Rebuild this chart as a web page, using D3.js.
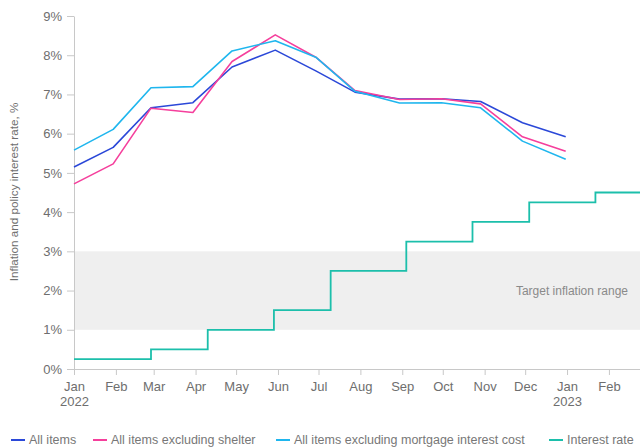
<!DOCTYPE html>
<html>
<head>
<meta charset="utf-8">
<script src="https://cdn.jsdelivr.net/npm/d3@7"></script>
<style>
  body { margin: 0; background: #fff; }
  svg { font-family: "Liberation Sans", Arial, sans-serif; }
</style>
</head>
<body>
<svg id="chart" width="640" height="448"></svg>
<script>
// monthly CPI readings (y/y %), dated where the kinks fall in the picture
const cpiDates = ["2022-01-01", "2022-01-30", "2022-02-27", "2022-03-30", "2022-04-28", "2022-05-30",
  "2022-06-29", "2022-07-28", "2022-08-30", "2022-09-30", "2022-10-29", "2022-11-29", "2022-12-31"];
const allItems      = [5.15, 5.65, 6.66, 6.79, 7.70, 8.13, 7.60, 7.06, 6.88, 6.89, 6.82, 6.28, 5.92];
const exShelter     = [4.72, 5.23, 6.65, 6.54, 7.84, 8.52, 7.95, 7.10, 6.87, 6.89, 6.76, 5.92, 5.55];
const exMortgage    = [5.58, 6.11, 7.17, 7.20, 8.11, 8.37, 7.95, 7.08, 6.78, 6.79, 6.66, 5.81, 5.35];

// policy rate, weekly steps
const rateDates = ["2022-01-01", "2022-02-27", "2022-04-10", "2022-05-29", "2022-07-10", "2022-09-04",
  "2022-10-23", "2022-12-04", "2023-01-22", "2023-02-24"];
const rateValues = [0.25, 0.5, 1.0, 1.5, 2.5, 3.25, 3.75, 4.25, 4.5, 4.5];

const yTicks = [0, 1, 2, 3, 4, 5, 6, 7, 8, 9];
const targetRange = [1, 3];

const seriesNames = ["All items", "All items excluding shelter", "All items excluding mortgage interest cost", "Interest rate"];
const seriesColors = ["#2b48d8", "#f53f9c", "#1fb6ee", "#1cbfab"];

let parse = d3.timeParse("%Y-%m-%d");

let margin = {top: 16, right: 0, bottom: 79, left: 74};
let width = 640, height = 448;

let svg = d3.select("#chart");

let x = d3.scaleTime()
  .domain([parse("2022-01-01"), parse("2023-02-24")])
  .range([margin.left, width - margin.right]);
let y = d3.scaleLinear()
  .domain([0, 9])
  .range([height - margin.bottom, margin.top]);

// target band
svg.append("rect")
  .attr("x", x.range()[0])
  .attr("width", x.range()[1] - x.range()[0])
  .attr("y", y(targetRange[1]))
  .attr("height", y(targetRange[0]) - y(targetRange[1]))
  .attr("fill", "#efefef");

svg.append("text")
  .attr("x", 628)
  .attr("y", y((targetRange[0] + targetRange[1]) / 2))
  .attr("dy", "0.35em")
  .attr("text-anchor", "end")
  .attr("font-size", 12)
  .attr("fill", "#8a8a8a")
  .text("Target inflation range");

// axes
let xAxis = d3.axisBottom(x)
  .ticks(d3.timeMonth.every(1))
  .tickFormat(d3.timeFormat("%b"))
  .tickSize(6)
  .tickSizeOuter(0)
  .tickPadding(7);

let gx = svg.append("g")
  .attr("transform", `translate(0,${y(0)})`)
  .call(xAxis);

gx.selectAll(".tick text")
  .filter(d => d.getMonth() === 0)
  .append("tspan")
  .attr("x", 0)
  .attr("dy", "1.15em")
  .text(d => d.getFullYear());

let yAxis = d3.axisLeft(y)
  .tickValues(yTicks)
  .tickFormat(d => d + "%")
  .tickSize(7)
  .tickSizeOuter(0)
  .tickPadding(5);

let gy = svg.append("g")
  .attr("transform", `translate(${margin.left},0)`)
  .call(yAxis);

svg.selectAll(".domain, .tick line").attr("stroke", "#c8c8c8");
svg.selectAll(".tick text")
  .attr("font-family", "Liberation Sans, Arial, sans-serif")
  .attr("font-size", 13)
  .attr("fill", "#6e6e6e");

svg.append("text")
  .attr("transform", "translate(18,192) rotate(-90)")
  .attr("text-anchor", "middle")
  .attr("font-size", 11.7)
  .attr("fill", "#6e6e6e")
  .text("Inflation and policy interest rate, %");

// lines
let cpiLine = d3.line()
  .x((d, i) => x(parse(cpiDates[i])))
  .y(d => y(d));

[allItems, exShelter, exMortgage].forEach((values, k) => {
  svg.append("path")
    .datum(values)
    .attr("fill", "none")
    .attr("stroke", seriesColors[k])
    .attr("stroke-width", 1.6)
    .attr("stroke-linejoin", "round")
    .attr("d", cpiLine);
});

let rateLine = d3.line()
  .curve(d3.curveStepAfter)
  .x((d, i) => x(parse(rateDates[i])))
  .y(d => y(d));

svg.append("path")
  .datum(rateValues)
  .attr("fill", "none")
  .attr("stroke", seriesColors[3])
  .attr("stroke-width", 1.8)
  .attr("d", rateLine);

// legend, item starts as laid out in the original
let legendX = [11, 93, 276, 549];
let legend = svg.append("g").attr("transform", "translate(0,440)");
seriesNames.forEach((name, i) => {
  let item = legend.append("g").attr("transform", `translate(${legendX[i]},0)`);
  item.append("line")
    .attr("x1", 0).attr("x2", 14)
    .attr("stroke", seriesColors[i])
    .attr("stroke-width", 2);
  item.append("text")
    .attr("x", 18)
    .attr("dy", "0.35em")
    .attr("font-size", 12.5)
    .attr("fill", "#777")
    .text(name);
});
</script>
</body>
</html>
